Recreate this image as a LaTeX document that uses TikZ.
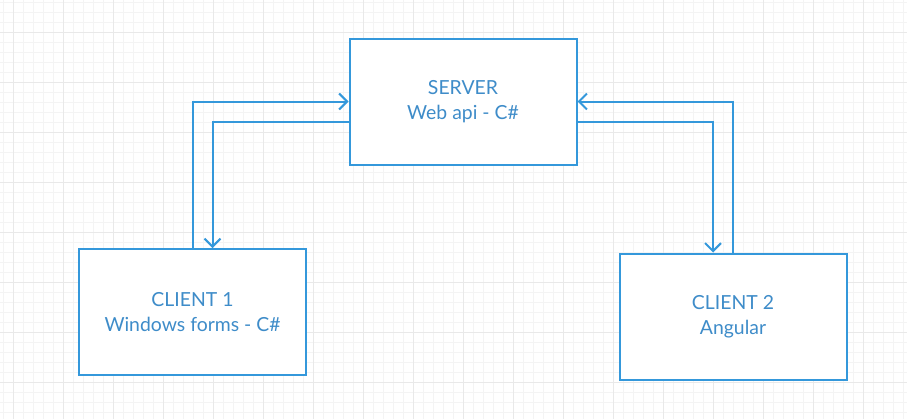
\documentclass[tikz,border=0pt]{standalone}
\usepackage{fontspec}
\setmainfont{Lato}
\usetikzlibrary{arrows.meta,calc}
\definecolor{boxblue}{RGB}{52,152,219}
\definecolor{textblue}{RGB}{62,140,201}
\definecolor{gridminor}{RGB}{244,244,244}
\definecolor{gridmajor}{RGB}{233,233,233}
\tikzstyle{tier}=[draw=boxblue,line width=2pt,fill=white,minimum width=227pt,minimum height=126pt,align=center,text=textblue,font=\fontsize{19.4}{25}\selectfont]
\tikzstyle{link}=[draw=boxblue,line width=2pt,-{Straight Barb[length=8pt,width=16pt,line width=2pt]}]
\begin{document}
\begin{tikzpicture}[x=1pt,y=-1pt]
  \useasboundingbox (0,0) rectangle (907,418);
  \fill[white] (0,0) rectangle (907,418);
  \begin{scope}
    \clip (0,0) rectangle (907,418);
    \draw[gridminor,line width=0.7pt,shift={(3.3,2.7)}] (-10,-10) grid[step=10pt] (910,420);
    \draw[gridmajor,line width=0.8pt,shift={(13.3,32.7)}] (-50,-50) grid[step=50pt] (950,450);
  \end{scope}
  \node(server)[tier] at (463,101.5) {SERVER\\Web api - C\#};
  \node(clientA)[tier] at (192.5,312) {CLIENT 1\\Windows forms - C\#};
  \node(clientB)[tier] at (733,316.5) {CLIENT 2\\Angular};
  \path[link]
    (clientA.north) |- (server.west);
  \path[link]
    ($(server.west)+(0,20)$) -| ($(clientA.north)+(20,0)$);
  \path[link]
    (clientB.north) |- (server.east);
  \path[link]
    ($(server.east)+(0,20)$) -| ($(clientB.north)+(-20,0)$);
\end{tikzpicture}
\end{document}
